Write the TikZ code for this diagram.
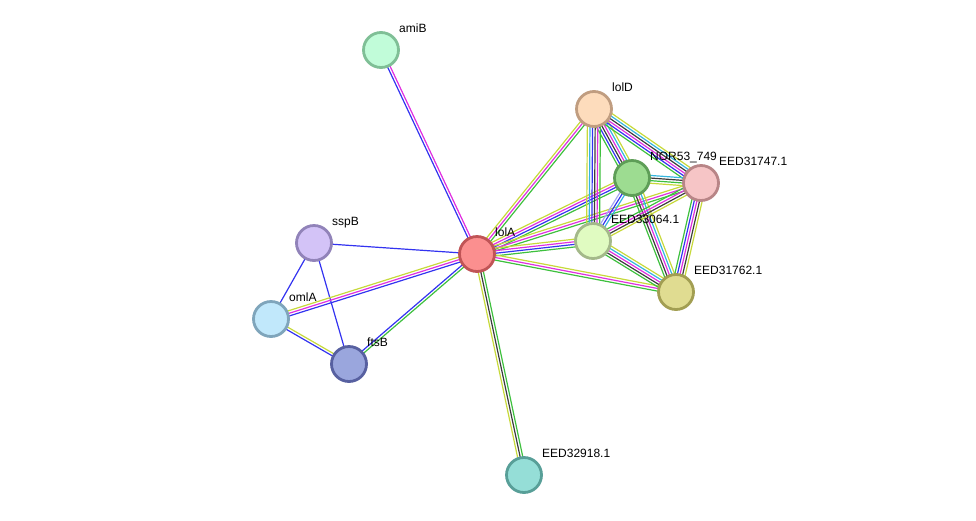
\documentclass[tikz,border=0pt]{standalone}
\usepackage{fontspec}
\setmainfont{Liberation Sans}
\usetikzlibrary{calc}

\definecolor{tmineC}{RGB}{199,217,58}
\definecolor{coexpC}{RGB}{60,60,60}
\definecolor{experC}{RGB}{224,48,224}
\definecolor{dbaseC}{RGB}{53,181,222}
\definecolor{neighC}{RGB}{62,192,62}
\definecolor{coocC}{RGB}{51,51,240}
\definecolor{homolC}{RGB}{166,166,240}

\pgfdeclarelayer{edges}
\pgfsetlayers{edges,main}

\tikzset{
  prot/.style={circle, minimum size=35pt, inner sep=0pt, line width=2.8pt},
  lbl/.style={anchor=base west, inner sep=0pt, font=\fontsize{12}{14}\selectfont},
  tmine/.style={draw=tmineC, line width=1.2pt},
  coexp/.style={draw=coexpC, line width=1.2pt},
  exper/.style={draw=experC, line width=1.2pt},
  dbase/.style={draw=dbaseC, line width=1.2pt},
  neigh/.style={draw=neighC, line width=1.2pt},
  cooc/.style={draw=coocC, line width=1.2pt},
  homol/.style={draw=homolC, line width=1.2pt}
}

% parallel evidence lines between two proteins
\newcommand{\strlink}[3]{%
  \foreach \c [count=\i] in {#3}{\xdef\nlin{\i}}
  \foreach \c [count=\i] in {#3}{
    \pgfmathsetmacro\off{(\i-(\nlin+1)/2)*2.6}
    \draw[\c] ($(#1.center)!\off pt!90:(#2.center)$) -- ($(#2.center)!\off pt!-90:(#1.center)$);
  }}

\begin{document}
\begin{tikzpicture}[x=1pt, y=-1pt, line cap=round, line join=round]
\useasboundingbox (0,0) rectangle (976,520);

\node[prot, fill={rgb,255:red,193;green,252;blue,217}, draw={rgb,255:red,127;green,191;blue,150}] (amiB) at (381,50) {};
\node[prot, fill={rgb,255:red,253;green,220;blue,188}, draw={rgb,255:red,192;green,157;blue,128}] (lolD) at (594,109) {};
\node[prot, fill={rgb,255:red,157;green,220;blue,145}, draw={rgb,255:red,94;green,158;blue,87}] (nor) at (632,178) {};
\node[prot, fill={rgb,255:red,246;green,197;blue,198}, draw={rgb,255:red,184;green,133;blue,135}] (e747) at (701,183) {};
\node[prot, fill={rgb,255:red,211;green,195;blue,247}, draw={rgb,255:red,145;green,131;blue,185}] (sspB) at (314,243) {};
\node[prot, fill={rgb,255:red,251;green,143;blue,143}, draw={rgb,255:red,192;green,84;blue,86}] (lolA) at (477,254) {};
\node[prot, fill={rgb,255:red,224;green,251;blue,193}, draw={rgb,255:red,164;green,185;blue,138}] (e064) at (593,241) {};
\node[prot, fill={rgb,255:red,193;green,232;blue,251}, draw={rgb,255:red,127;green,165;blue,187}] (omlA) at (271,319) {};
\node[prot, fill={rgb,255:red,224;green,220;blue,145}, draw={rgb,255:red,162;green,158;blue,82}] (e762) at (676,292) {};
\node[prot, fill={rgb,255:red,154;green,166;blue,221}, draw={rgb,255:red,87;green,96;blue,160}] (ftsB) at (349,364) {};
\node[prot, fill={rgb,255:red,149;green,222;blue,215}, draw={rgb,255:red,88;green,159;blue,152}] (e918) at (524,475) {};

\node[lbl] (amiB-l) at ($(amiB)+(18,-18)$) {amiB};
\node[lbl] (lolD-l) at ($(lolD)+(18,-18)$) {lolD};
\node[lbl] (nor-l) at ($(nor)+(18,-18)$) {NOR53\_749};
\node[lbl] (e747-l) at ($(e747)+(18,-18)$) {EED31747.1};
\node[lbl] (sspB-l) at ($(sspB)+(18,-18)$) {sspB};
\node[lbl] (lolA-l) at ($(lolA)+(18,-18)$) {lolA};
\node[lbl] (e064-l) at ($(e064)+(18,-18)$) {EED33064.1};
\node[lbl] (omlA-l) at ($(omlA)+(18,-18)$) {omlA};
\node[lbl] (e762-l) at ($(e762)+(18,-18)$) {EED31762.1};
\node[lbl] (ftsB-l) at ($(ftsB)+(18,-18)$) {ftsB};
\node[lbl] (e918-l) at ($(e918)+(18,-18)$) {EED32918.1};

\begin{pgfonlayer}{edges}
\strlink{amiB}{lolA}{cooc,exper}
\strlink{sspB}{lolA}{cooc}
\strlink{sspB}{omlA}{cooc}
\strlink{sspB}{ftsB}{cooc}
\strlink{omlA}{lolA}{cooc,exper,tmine}
\strlink{omlA}{ftsB}{cooc,tmine}
\strlink{ftsB}{lolA}{neigh,cooc}
\strlink{lolA}{e918}{tmine,coexp,neigh}
\strlink{lolA}{lolD}{neigh,exper,tmine}
\strlink{lolA}{nor}{neigh,cooc,exper,tmine}
\strlink{lolA}{e747}{neigh,exper,tmine}
\strlink{lolA}{e064}{neigh,cooc,exper,tmine}
\strlink{lolA}{e762}{neigh,exper,tmine}
\strlink{lolD}{nor}{neigh,cooc,coexp,exper,dbase,tmine}
\strlink{lolD}{e747}{neigh,cooc,exper,coexp,dbase,tmine}
\strlink{lolD}{e064}{tmine,dbase,cooc,coexp,exper,neigh}
\strlink{nor}{e747}{tmine,neigh,coexp,dbase}
\strlink{nor}{e064}{homol,cooc,dbase}
\strlink{nor}{e762}{neigh,coexp,exper,dbase,tmine}
\strlink{e747}{e064}{neigh,exper,coexp,tmine}
\strlink{e747}{e762}{neigh,cooc,exper,coexp,tmine}
\strlink{e064}{e762}{neigh,coexp,exper,dbase,tmine}
\end{pgfonlayer}
\end{tikzpicture}
\end{document}
